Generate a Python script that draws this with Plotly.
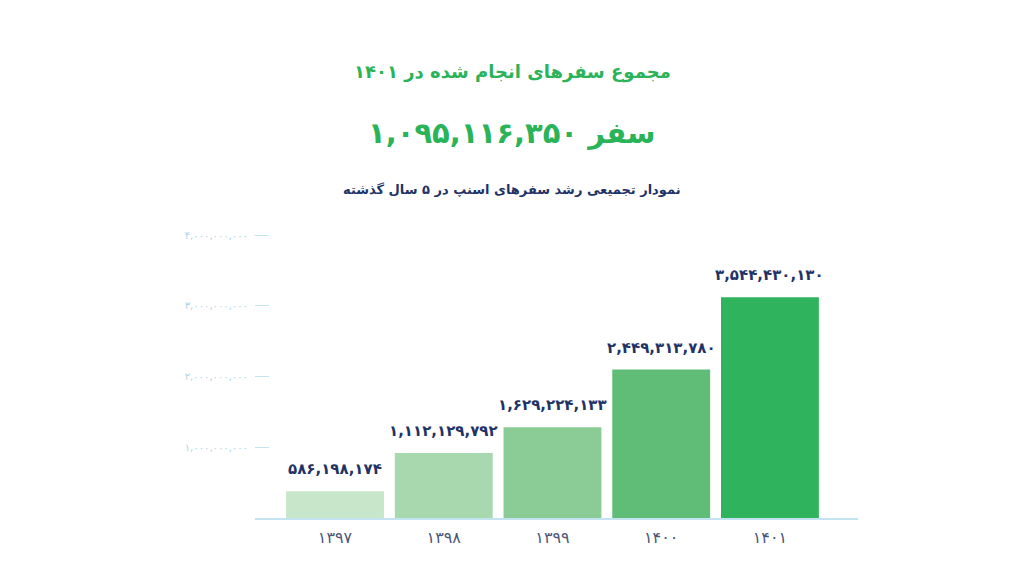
import plotly.graph_objects as go

# Data
years = ["۱۳۹۷", "۱۳۹۸", "۱۳۹۹", "۱۴۰۰", "۱۴۰۱"]
trip_totals = [586198174, 1112129792, 1629224133, 2449313780, 3544430130]
# bar heights as drawn in the source picture
bar_heights = [0.38e9, 0.92e9, 1.285e9, 2.10e9, 3.12e9]
bar_colors = ["#c8e6ca", "#a7d8ae", "#8bcb96", "#5fbd78", "#2fb35d"]
tick_values = [1e9, 2e9, 3e9, 4e9]
tick_labels = ["۱,۰۰۰,۰۰۰,۰۰۰", "۲,۰۰۰,۰۰۰,۰۰۰", "۳,۰۰۰,۰۰۰,۰۰۰", "۴,۰۰۰,۰۰۰,۰۰۰"]
total_1401 = 1095116350

FONT = "DejaVu Sans"
GREEN = "#2bb35a"
NAVY = "#1f3366"

fa_digits = str.maketrans("0123456789", "۰۱۲۳۴۵۶۷۸۹")


def to_fa(n):
    return f"{n:,}".translate(fa_digits)


# page offset of the figure (browser body margin)
OFF = 8
W, H = 1024, 576
plot_l, plot_r = 255 - OFF, 858 - OFF
plot_t, plot_b = 221 - OFF, 518 - OFF
plot_w = plot_r - plot_l
plot_h = plot_b - plot_t


def px_x(x):
    return (x - OFF - plot_l) / plot_w


def px_y(y):
    return 1 + (plot_t - (y - OFF)) / plot_h


fig = go.Figure()
fig.add_trace(go.Bar(
    x=years,
    y=bar_heights,
    marker=dict(color=bar_colors, line=dict(width=0)),
    width=0.9,
    hoverinfo="skip",
))

for yr, h, v in zip(years, bar_heights, trip_totals):
    fig.add_annotation(
        x=yr, y=h, text=f"<b>{to_fa(v)}</b>", showarrow=False,
        yanchor="bottom", yshift=11,
        font=dict(family=FONT, size=15, color=NAVY),
    )

headers = [
    ("<b>مجموع سفرهای انجام شده در ۱۴۰۱</b>", 72, 18, GREEN),
    (f"<b>{to_fa(total_1401)} سفر</b>", 133, 29, GREEN),
    ("<b>نمودار تجمیعی رشد سفرهای اسنپ در ۵ سال گذشته</b>", 189, 13, NAVY),
]
for text, y_px, size, color in headers:
    fig.add_annotation(
        text=text, x=px_x(512), y=px_y(y_px), xref="paper", yref="paper",
        xanchor="center", yanchor="middle", showarrow=False,
        font=dict(family=FONT, size=size, color=color),
    )

fig.update_layout(
    width=W,
    height=H,
    margin=dict(l=plot_l, r=W - plot_r, t=plot_t, b=H - plot_b),
    plot_bgcolor="white",
    paper_bgcolor="white",
    showlegend=False,
    bargap=0.1,
    xaxis=dict(
        range=[-0.736, 4.81],
        showgrid=False,
        showline=True,
        linecolor="#c3e3f0",
        linewidth=1.5,
        ticks="",
        ticklabelstandoff=4,
        tickfont=dict(family=FONT, size=16, color="#4a5676"),
        fixedrange=True,
    ),
    yaxis=dict(
        range=[0, 4.2e9],
        tickvals=tick_values,
        ticktext=tick_labels,
        showgrid=False,
        zeroline=False,
        showline=False,
        ticks="inside",
        ticklen=14,
        tickwidth=1,
        tickcolor="#c3e3f0",
        ticklabelstandoff=6,
        tickfont=dict(family=FONT, size=10, color="#a9d6ea"),
        fixedrange=True,
    ),
)

fig.write_html("out.html")
